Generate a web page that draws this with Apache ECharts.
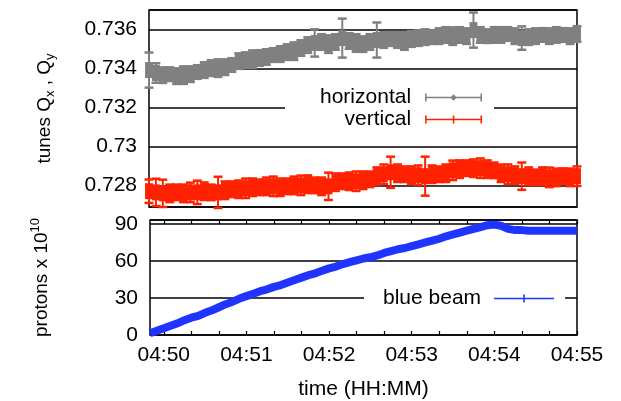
<!DOCTYPE html>
<html>
<head>
<meta charset="utf-8">
<script src="https://cdn.jsdelivr.net/npm/echarts@6/dist/echarts.min.js"></script>
<style>
html,body{margin:0;padding:0;background:#fff}
#chart{width:621px;height:401px}
</style>
</head>
<body>
<div id="chart"></div>
<script>
var FONT = '"Liberation Sans", Arial, Helvetica, sans-serif';

// seconds after 04:50:00
var timeSec = [-10,-5,0,5,10,15,20,25,30,35,40,45,50,55,60,65,70,75,80,85,90,95,100,105,110,115,120,125,130,135,140,145,150,155,160,165,170,175,180,185,190,195,200,205,210,215,220,225,230,235,240,245,250,255,260,265,270,275,280,285,290,295,300];

// horizontal tune Qx and its error
var horizTune = [0.73392,0.73377,0.73366,0.73371,0.73361,0.73366,0.73371,0.73382,0.73392,0.73402,
  0.73402,0.73407,0.73418,0.73438,0.73443,0.73448,0.73454,0.73459,0.73469,0.73474,
  0.73484,0.73489,0.73505,0.73520,0.73531,0.73536,0.73525,0.73536,0.73556,0.73541,
  0.73531,0.73525,0.73536,0.73546,0.73546,0.73551,0.73546,0.73541,0.73551,0.73556,
  0.73561,0.73561,0.73566,0.73572,0.73566,0.73572,0.73566,0.73597,0.73572,0.73566,
  0.73572,0.73572,0.73577,0.73566,0.73556,0.73561,0.73566,0.73572,0.73566,0.73572,
  0.73572,0.73566,0.73577];
var horizErr = [0.0009,0.0005,0.0004,0.00035,0.0004,0.00045,0.0004,0.00035,0.0004,0.0004,
  0.00045,0.0004,0.00035,0.0004,0.0004,0.00045,0.0004,0.0004,0.00035,0.0004,
  0.0004,0.00045,0.0004,0.0004,0.0007,0.0004,0.00045,0.0004,0.001,0.0004,
  0.00045,0.0004,0.0004,0.0009,0.0004,0.00035,0.0004,0.00045,0.0004,0.0004,
  0.0004,0.00035,0.0004,0.0004,0.00045,0.0004,0.0004,0.0009,0.0004,0.00035,
  0.0004,0.0004,0.00035,0.0004,0.0006,0.0004,0.0004,0.00035,0.0004,0.0004,
  0.00035,0.0004,0.0004];

// vertical tune Qy and its error
var vertTune = [0.72771,0.72765,0.72760,0.72760,0.72765,0.72760,0.72765,0.72765,0.72771,0.72765,
  0.72765,0.72776,0.72781,0.72781,0.72786,0.72791,0.72791,0.72796,0.72796,0.72791,
  0.72796,0.72801,0.72801,0.72807,0.72801,0.72796,0.72796,0.72817,0.72822,0.72822,
  0.72822,0.72827,0.72832,0.72848,0.72858,0.72868,0.72863,0.72858,0.72853,0.72853,
  0.72848,0.72858,0.72858,0.72863,0.72878,0.72884,0.72889,0.72889,0.72889,0.72884,
  0.72878,0.72863,0.72858,0.72853,0.72848,0.72848,0.72842,0.72848,0.72842,0.72842,
  0.72848,0.72842,0.72848];
var vertErr = [0.0006,0.0007,0.0007,0.00045,0.0004,0.00045,0.0005,0.0006,0.00045,0.0004,
  0.0008,0.00045,0.0004,0.00045,0.0005,0.00045,0.0004,0.00045,0.0005,0.00045,
  0.0004,0.00045,0.0005,0.00045,0.0004,0.00045,0.0007,0.00045,0.0004,0.00045,
  0.0005,0.00045,0.0004,0.00045,0.0005,0.0008,0.00045,0.0004,0.00045,0.0005,
  0.001,0.00045,0.0004,0.00045,0.0005,0.00045,0.0004,0.00045,0.0005,0.00045,
  0.0004,0.00045,0.0005,0.00045,0.0007,0.00045,0.0004,0.00045,0.0005,0.00045,
  0.0004,0.00045,0.0005];

// protons x 10^10
var blueBeam = [1.5,3.5,5.5,7.5,9.5,12,14,15.5,18,20,
  22.5,25,27,29.5,31.5,33.5,35.5,37,39,40.5,
  42.5,44.5,46.5,48.5,50,52,54,55.5,57.5,59,
  60.5,62,63,64.5,66.5,68,69.5,70.5,72,73.5,
  75,76.5,78,80,81.5,83,84.5,86,87.5,89,
  89.5,88.5,86,85,85,84.5,84.5,84.5,84.5,84.5,
  84.5,84.5,84.5];

var xTickSec = [0,20,40,60,80,100,120,140,160,180,200,220,240,260,280,300];
var xLabelSec = [0,60,120,180,240,300];
var xLabelText = ['04:50','04:51','04:52','04:53','04:54','04:55'];
var tuneTicks = [0.728,0.73,0.732,0.734,0.736];
var tuneTickText = ['0.728','0.73','0.732','0.734','0.736'];
var protonTicks = [0,30,60,90];

var GRAY = '#808080', RED = '#ff2200', BLUE = '#1f35ff';

function pack(vals, errs) {
  var out = [];
  for (var i = 0; i < timeSec.length; i++) {
    out.push(errs ? [timeSec[i], vals[i], errs[i]] : [timeSec[i], vals[i]]);
  }
  return out;
}

// point with y error bar, drawn gnuplot style (dense points merge into a band)
function errorBars(color) {
  return function (params, api) {
    var t = api.value(0), v = api.value(1), e = api.value(2);
    var c = api.coord([t, v]);
    var hi = api.coord([t, v + e]);
    var lo = api.coord([t, v - e]);
    var w = api.size([5, 0])[0];
    var h = Math.min(c[1] - hi[1], 8);
    var cap = {stroke: color, lineWidth: 2.5};
    return {
      type: 'group',
      children: [
        {type: 'rect', shape: {x: c[0] - w / 2 - 0.5, y: c[1] - h, width: w + 1, height: 2 * h}, style: {fill: color}},
        {type: 'line', shape: {x1: c[0], y1: hi[1], x2: c[0], y2: lo[1]}, style: {stroke: color, lineWidth: 2}},
        {type: 'line', shape: {x1: c[0] - w / 2 - 1, y1: hi[1], x2: c[0] + w / 2 + 1, y2: hi[1]}, style: cap},
        {type: 'line', shape: {x1: c[0] - w / 2 - 1, y1: lo[1], x2: c[0] + w / 2 + 1, y2: lo[1]}, style: cap}
      ]
    };
  };
}

var iconDiamond = 'path://M0 0h1.6v8h-1.6Z M55.4 0h1.6v8h-1.6Z M0 3.3h57v1.4h-57Z M28.5 0.8L31.7 4L28.5 7.2L25.3 4Z';
var iconCross = 'path://M0 0h1.6v8h-1.6Z M55.4 0h1.6v8h-1.6Z M0 3.3h57v1.4h-57Z M27.7 0h1.6v8h-1.6Z';
var iconBlue = 'path://M0 3.2h60v1.6h-60Z M29.2 0h1.6v8h-1.6Z';

var txt = {fontFamily: FONT, fontSize: 21, color: '#000'};
var splitBlack = {show: true, lineStyle: {color: '#000', width: 1.5}};

var chart = echarts.init(document.getElementById('chart'), null, {renderer: 'canvas'});
chart.setOption({
  animation: false,
  backgroundColor: '#fff',
  grid: [
    {left: 149, top: 10, width: 428, height: 197, show: true, borderColor: '#000', borderWidth: 1.5, outerBoundsMode: 'none'},
    {left: 150, top: 220, width: 427, height: 115, show: true, borderColor: '#000', borderWidth: 1.5, outerBoundsMode: 'none'}
  ],
  legend: [
    {
      orient: 'vertical', align: 'right', left: 285, top: 83,
      padding: [4, 12, 4, 35], backgroundColor: '#fff',
      itemWidth: 57, itemHeight: 8, itemGap: 1, selectedMode: false,
      textStyle: {fontFamily: FONT, fontSize: 21, color: '#000', lineHeight: 20, padding: [0, 9, 0, 0]},
      data: [
        {name: 'horizontal', icon: iconDiamond, itemStyle: {color: GRAY}},
        {name: 'vertical', icon: iconCross, itemStyle: {color: RED}}
      ]
    },
    {
      orient: 'vertical', align: 'right', left: 364, top: 284,
      padding: [4, 11, 4, 19], backgroundColor: '#fff',
      itemWidth: 60, itemHeight: 8, selectedMode: false,
      textStyle: {fontFamily: FONT, fontSize: 21, color: '#000', lineHeight: 20, padding: [0, 8, 0, 0]},
      data: [{name: 'blue beam', icon: iconBlue, itemStyle: {color: BLUE}}]
    }
  ],
  xAxis: [
    {type: 'value', gridIndex: 0, min: -10, max: 300,
      axisLine: {show: false}, axisTick: {show: false}, axisLabel: {show: false}, splitLine: {show: false}},
    {type: 'value', gridIndex: 1, min: -10, max: 300,
      axisLine: {show: false},
      axisTick: {inside: true, length: 4, customValues: xTickSec, lineStyle: {color: '#000', width: 1.2}},
      axisLabel: {customValues: xLabelSec, margin: 10, fontFamily: FONT, fontSize: 21, color: '#000',
        formatter: function (v) { var i = xLabelSec.indexOf(Math.round(v)); return i < 0 ? '' : xLabelText[i]; }},
      splitLine: {show: false},
      name: 'time (HH:MM)', nameLocation: 'middle', nameGap: 44, nameTextStyle: txt},
    {type: 'value', gridIndex: 1, min: -10, max: 300, position: 'top',
      axisLine: {show: false},
      axisTick: {inside: true, length: 4, customValues: xTickSec, lineStyle: {color: '#000', width: 1.2}},
      axisLabel: {show: false}, splitLine: {show: false}}
  ],
  yAxis: [
    {type: 'value', gridIndex: 0, min: 0.7269, max: 0.737, splitNumber: 5,
      axisLine: {show: false}, axisTick: {show: false},
      axisLabel: {customValues: tuneTicks, margin: 12, fontFamily: FONT, fontSize: 21, color: '#000',
        formatter: function (v) {
          for (var i = 0; i < tuneTicks.length; i++) { if (Math.abs(tuneTicks[i] - v) < 1e-7) return tuneTickText[i]; }
          return '';
        }},
      splitLine: splitBlack,
      name: 'tunes Q{s|x} , Q{s|y}', nameLocation: 'middle', nameGap: 92,
      nameTextStyle: {fontFamily: FONT, fontSize: 19, color: '#000', lineHeight: 24,
        rich: {s: {fontFamily: FONT, fontSize: 13, color: '#000', lineHeight: 14, verticalAlign: 'bottom'}}}},
    {type: 'value', gridIndex: 1, min: 0, max: 93.2, interval: 30,
      axisLine: {show: false}, axisTick: {show: false},
      axisLabel: {customValues: protonTicks, margin: 12, fontFamily: FONT, fontSize: 21, color: '#000'},
      splitLine: splitBlack,
      name: 'protons x 10{p|10}', nameLocation: 'middle', nameGap: 95,
      nameTextStyle: {fontFamily: FONT, fontSize: 19, color: '#000', lineHeight: 26,
        rich: {p: {fontFamily: FONT, fontSize: 13, color: '#000', lineHeight: 14, verticalAlign: 'top'}}}}
  ],
  series: [
    {name: 'horizontal', type: 'custom', xAxisIndex: 0, yAxisIndex: 0,
      itemStyle: {color: GRAY}, renderItem: errorBars(GRAY),
      encode: {x: 0, y: 1}, data: pack(horizTune, horizErr)},
    {name: 'vertical', type: 'custom', xAxisIndex: 0, yAxisIndex: 0,
      itemStyle: {color: RED}, renderItem: errorBars(RED),
      encode: {x: 0, y: 1}, data: pack(vertTune, vertErr)},
    {name: 'blue beam', type: 'line', xAxisIndex: 1, yAxisIndex: 1,
      symbol: 'none', lineStyle: {color: BLUE, width: 8}, itemStyle: {color: BLUE},
      data: pack(blueBeam)}
  ]
});
</script>
</body>
</html>
